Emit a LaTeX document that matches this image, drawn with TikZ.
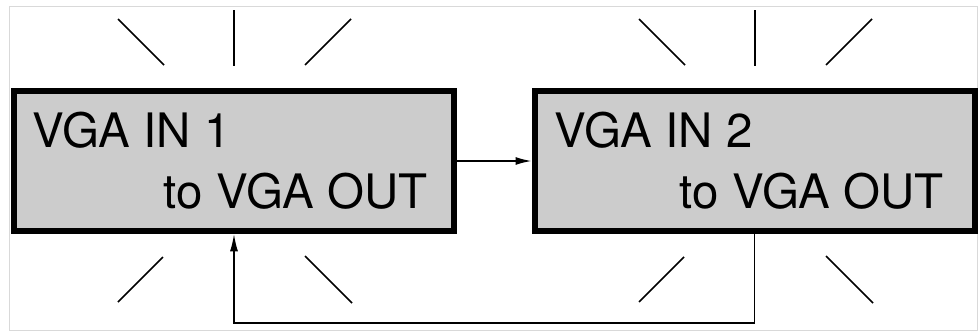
\documentclass[tikz,border=0pt]{standalone}
\usepackage{fontspec}
\setmainfont{TeX Gyre Heros}
\usetikzlibrary{arrows.meta}

\tikzset{
  vgabox/.style={draw=black, line width=4.5pt, fill=gray!40, inner sep=0pt,
    minimum width=330pt, minimum height=105pt},
  vgatext/.style={font=\fontsize{35.6}{42}\selectfont, inner sep=0pt},
  ray/.style={line width=1.1pt},
  conn/.style={line width=1.1pt}
}

\begin{document}
\begin{tikzpicture}[x=0.75pt,y=-0.75pt]
\useasboundingbox (0,0) rectangle (978,332);

% Outer frame
\draw[gray!30, line width=0.75pt] (9,6) rectangle (977,330);

% Boxes
\node[vgabox] (box1) at (234,161) {};
\node[vgabox] (box2) at (754.5,161) {};

% Labels
\node[vgatext, anchor=base west] (in1) at (32,147) {VGA IN 1};
\node[vgatext, anchor=base east] (out1) at (428,208) {to VGA OUT};
\node[vgatext, anchor=base west] (in2) at (554,147) {VGA IN 2};
\node[vgatext, anchor=base east] (out2) at (944,208) {to VGA OUT};

% Flash rays round each box
\foreach \cx in {234,755} {
  \draw[ray] (\cx-116,19) -- (\cx-70,65);
  \draw[ray] (\cx,10) -- (\cx,66);
  \draw[ray] (\cx+117,19) -- (\cx+71,65);
  \draw[ray] (\cx-71,257) -- (\cx-116,302);
  \draw[ray] (\cx+71,256) -- (\cx+118,303);
}

% Connections
\coordinate (bend) at (754.5,323);
\draw[conn, -{Latex[length=12pt,width=6pt]}] (box1.east) -- (box2.west);
\draw[conn, -{Latex[length=13pt,width=6pt]}] (box2.south) -- (bend) -| (box1.south);

\end{tikzpicture}
\end{document}
